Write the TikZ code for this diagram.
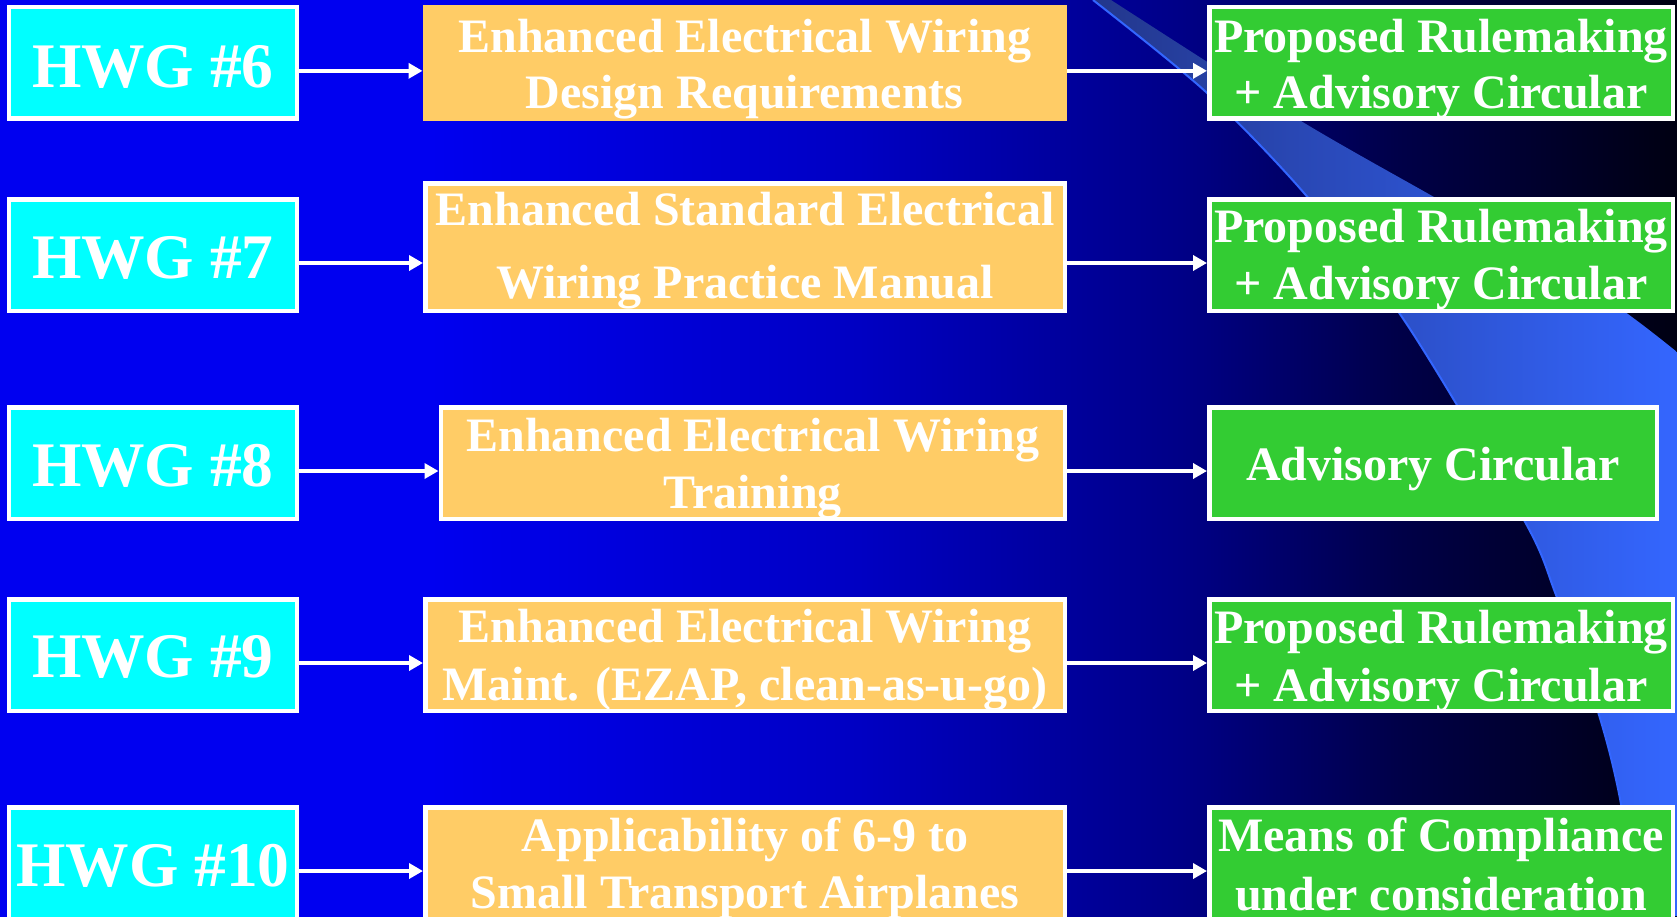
\documentclass[tikz,border=0pt]{standalone}
\usepackage{fontspec}
\setmainfont{Liberation Serif}
\usetikzlibrary{arrows.meta}
\definecolor{bgA}{RGB}{0,0,240}
\definecolor{bgB}{RGB}{0,0,195}
\definecolor{bgC}{RGB}{0,0,135}
\definecolor{bgD}{RGB}{0,0,72}
\definecolor{bgE}{RGB}{0,0,18}
\definecolor{swA}{RGB}{35,55,140}
\definecolor{swB}{RGB}{52,102,255}
\definecolor{swLine}{RGB}{51,102,255}
\definecolor{hwgcyan}{RGB}{0,255,255}
\definecolor{orng}{RGB}{255,204,102}
\definecolor{grn}{RGB}{51,204,51}
\pgfdeclarehorizontalshading{bgshade}{100bp}{color(0bp)=(bgA); color(37.8bp)=(bgA); color(50.6bp)=(bgB); color(60.2bp)=(bgC); color(66.7bp)=(bgD); color(75bp)=(bgE); color(100bp)=(bgE)}
\begin{document}
\begin{tikzpicture}[x=1pt,y=-1pt,
  box/.style={rectangle, inner sep=0pt, line width=4.5pt, draw=white},
  cbox/.style={box, fill=hwgcyan, minimum width=287.8pt, minimum height=111.5pt},
  obox/.style={box, fill=orng, minimum height=111.5pt},
  gbox/.style={box, fill=grn, minimum height=111.5pt},
  htxt/.style={anchor=base, inner sep=0pt, text=white, font=\fontsize{63.5}{70}\selectfont\bfseries},
  btxt/.style={anchor=base, inner sep=0pt, text=white, font=\fontsize{48}{56}\selectfont\bfseries},
  arr/.style={draw=white, line width=4.2pt, -{Triangle[length=14pt,width=15pt]}}]
\useasboundingbox (0,0) rectangle (1677,916);
\clip (0,0) rectangle (1677,916);
% background
\shade[shading=bgshade] (0,0) rectangle (1677,916);
% swoosh
\shade[left color=swA, right color=swB]
  plot[smooth] coordinates {(1093,0) (1206,92) (1304,193) (1404,320) (1524,520) (1556,595) (1599,715) (1621,804) (1636,916)}
  -- (1677,916) -- (1677,352)
  -- plot[smooth] coordinates {(1677,352) (1636,320) (1572,275) (1434,197) (1296,118) (1111,0)} -- cycle;
\draw[swLine, line width=2pt] plot[smooth] coordinates {(1093,0) (1206,92) (1304,193) (1404,320) (1524,520) (1556,595) (1599,715) (1621,804) (1636,916)};
% HWG boxes
\node[cbox] (c6) at (152.85,62.85) {};
\node[cbox] (c7) at (152.85,255) {};
\node[cbox] (c8) at (152.85,463) {};
\node[cbox] (c9) at (152.85,655) {};
\node[cbox] (c10) at (152.85,863) {};
% orange boxes
\node[obox, draw=none, outer sep=0pt, minimum width=644.5pt, minimum height=116.3pt] (o6) at (744.75,62.85) {};
\node[obox, minimum width=639.5pt, minimum height=127.5pt] (o7) at (745,247) {};
\node[obox, minimum width=624pt] (o8) at (752.75,463) {};
\node[obox, minimum width=639.5pt] (o9) at (745,655) {};
\node[obox, minimum width=639.5pt] (o10) at (745,863) {};
% green boxes
\node[gbox, minimum width=463.5pt] (g6) at (1441,62.85) {};
\node[gbox, minimum width=463.5pt] (g7) at (1441,255) {};
\node[gbox, minimum width=447.5pt] (g8) at (1433,463) {};
\node[gbox, minimum width=463.5pt] (g9) at (1441,655) {};
\node[gbox, minimum width=463.5pt] (g10) at (1441,863) {};
% texts
\node[htxt] (c6t) at (152.85,87.3) {HWG \#6};
\node[htxt] (c7t) at (152.85,278.3) {HWG \#7};
\node[htxt] (c8t) at (152.85,486.6) {HWG \#8};
\node[htxt] (c9t) at (152.85,677.7) {HWG \#9};
\node[htxt] (c10t) at (152.85,886) {HWG \#10};
\node[btxt] (o6a) at (744.75,52) {Enhanced Electrical Wiring};
\node[btxt] (o6b) at (744.75,108) {Design Requirements};
\node[btxt] (o7a) at (745,225) {Enhanced Standard Electrical};
\node[btxt] (o7b) at (745,298) {Wiring Practice Manual};
\node[btxt] (o8a) at (752.75,451.4) {Enhanced Electrical Wiring};
\node[btxt] (o8b) at (752.75,508) {Training};
\node[btxt] (o9a) at (745,642) {Enhanced Electrical Wiring};
\node[btxt] (o9b) at (745,700) {Maint. (EZAP, clean-as-u-go)};
\node[btxt] (o10a) at (745,851) {Applicability of 6-9 to};
\node[btxt] (o10b) at (745,908) {Small Transport Airplanes};
\node[btxt] (g6a) at (1441,52) {Proposed Rulemaking};
\node[btxt] (g6b) at (1441,108) {+ Advisory Circular};
\node[btxt] (g7a) at (1441,242) {Proposed Rulemaking};
\node[btxt] (g7b) at (1441,299) {+ Advisory Circular};
\node[btxt] (g8a) at (1433,480) {Advisory Circular};
\node[btxt] (g9a) at (1441,643) {Proposed Rulemaking};
\node[btxt] (g9b) at (1441,701) {+ Advisory Circular};
\node[btxt] (g10a) at (1441,851) {Means of Compliance};
\node[btxt] (g10b) at (1441,910) {under consideration};
% arrows
\foreach \r in {6,7,8,9,10}{
  \draw[arr] ([yshift=-8pt]c\r.east) -- ([yshift=-8pt]c\r.east -| o\r.west);
  \draw[arr] ([yshift=-8pt]c\r.east -| o\r.east) -- ([yshift=-8pt]c\r.east -| g\r.west);
}
\end{tikzpicture}
\end{document}
